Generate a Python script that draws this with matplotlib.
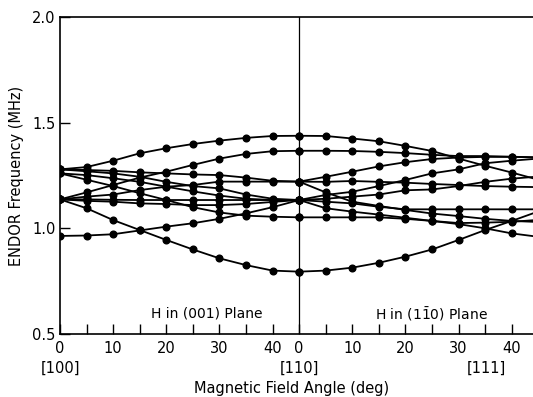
import numpy as np
import matplotlib
matplotlib.use("Agg")
import matplotlib.pyplot as plt
from matplotlib.transforms import blended_transform_factory

# angles (deg) in each plane
ang = [0, 5, 10, 15, 20, 25, 30, 35, 40, 45]

# H in (001) plane: [100] -> [110]
left_curves = [
    [1.279, 1.29, 1.32, 1.355, 1.379, 1.399, 1.415, 1.428, 1.437, 1.438],
    [1.137, 1.17, 1.205, 1.24, 1.268, 1.30, 1.33, 1.352, 1.365, 1.367],
    [1.279, 1.276, 1.272, 1.265, 1.26, 1.255, 1.252, 1.24, 1.225, 1.221],
    [1.26, 1.252, 1.237, 1.22, 1.197, 1.175, 1.155, 1.14, 1.134, 1.134],
    [1.26, 1.23, 1.20, 1.166, 1.134, 1.10, 1.075, 1.06, 1.055, 1.052],
    [1.137, 1.15, 1.16, 1.181, 1.197, 1.205, 1.221, 1.221, 1.221, 1.221],
    [1.137, 1.137, 1.135, 1.134, 1.134, 1.134, 1.134, 1.134, 1.134, 1.134],
    [1.137, 1.13, 1.126, 1.118, 1.115, 1.11, 1.11, 1.115, 1.125, 1.134],
    [1.137, 1.095, 1.039, 0.992, 0.945, 0.90, 0.858, 0.826, 0.80, 0.795],
    [0.964, 0.966, 0.972, 0.99, 1.008, 1.024, 1.045, 1.071, 1.10, 1.134],
    [1.279, 1.27, 1.26, 1.244, 1.22, 1.20, 1.189, 1.16, 1.14, 1.134],
]

# H in (1-10) plane: [110] -> [111] -> ...
right_curves = [
    [1.438, 1.437, 1.425, 1.412, 1.39, 1.366, 1.33, 1.296, 1.264, 1.23],
    [1.367, 1.367, 1.366, 1.362, 1.356, 1.348, 1.342, 1.342, 1.339, 1.335],
    [1.221, 1.244, 1.268, 1.293, 1.313, 1.328, 1.335, 1.338, 1.338, 1.336],
    [1.221, 1.22, 1.224, 1.22, 1.216, 1.21, 1.205, 1.20, 1.197, 1.195],
    [1.134, 1.158, 1.173, 1.20, 1.229, 1.26, 1.279, 1.308, 1.32, 1.33],
    [1.221, 1.17, 1.126, 1.106, 1.087, 1.07, 1.058, 1.045, 1.035, 1.03],
    [1.134, 1.126, 1.118, 1.102, 1.09, 1.09, 1.09, 1.09, 1.09, 1.09],
    [0.795, 0.80, 0.814, 0.837, 0.866, 0.90, 0.945, 0.992, 1.035, 1.08],
    [1.052, 1.052, 1.052, 1.052, 1.045, 1.035, 1.02, 1.00, 0.976, 0.96],
    [1.134, 1.095, 1.079, 1.065, 1.05, 1.035, 1.025, 1.027, 1.031, 1.04],
    [1.134, 1.14, 1.15, 1.16, 1.18, 1.184, 1.20, 1.22, 1.235, 1.245],
]

dirs = ["[100]", "[110]", "[111]"]
dir_pos = [0, 45, 45 + 35.26]

fig = plt.figure(figsize=(5.33, 3.97), dpi=100)
ax = fig.add_axes([60 / 533, 1 - 334 / 397, 1 - 60 / 533 + 0.01, (334 - 17) / 397])

shift = 45  # right panel starts where the left one ends
for c in left_curves:
    ax.plot(ang, c, "k-o", lw=1.3, ms=4.8)
for c in right_curves:
    ax.plot(np.array(ang) + shift, c, "k-o", lw=1.3, ms=4.8)

ax.axvline(shift, color="k", lw=0.9)

ax.set_xlim(0, 45 + (533 - 300) / 5.31)
ax.set_ylim(0.5, 2.0)

xt = ang + [a + shift for a in ang[1:]]
ax.set_xticks(xt)
ax.set_xticklabels(["0", "", "10", "", "20", "", "30", "", "40", "0",
                    "", "10", "", "20", "", "30", "", "40", ""])
ax.set_yticks([0.5, 1.0, 1.5, 2.0])
ax.set_yticklabels(["0.5", "1.0", "1.5", "2.0"])
ax.tick_params(direction="in", length=7, width=1, labelsize=10.5, pad=5)
ax.tick_params(axis="y", pad=3)

ax.spines["right"].set_visible(False)
for s in ["left", "bottom", "top"]:
    ax.spines[s].set_linewidth(1.2)

tr = blended_transform_factory(ax.transData, ax.transAxes)
for d, p in zip(dirs, dir_pos):
    ax.text(p, -0.107, d, transform=tr, ha="center", va="center", fontsize=10.5)

ax.text(27.6, 0.595, "H in (001) Plane", ha="center", va="center", fontsize=10)
ax.text(69.9, 0.595, "H in (1$\\bar{1}$0) Plane", ha="center", va="center", fontsize=10)

ax.set_ylabel("ENDOR Frequency (MHz)", fontsize=10.5, labelpad=6)
fig.text(292 / 533, 1 - 389 / 397, "Magnetic Field Angle (deg)", ha="center",
         va="center", fontsize=10.5)

fig.savefig("out.png", dpi=100)
